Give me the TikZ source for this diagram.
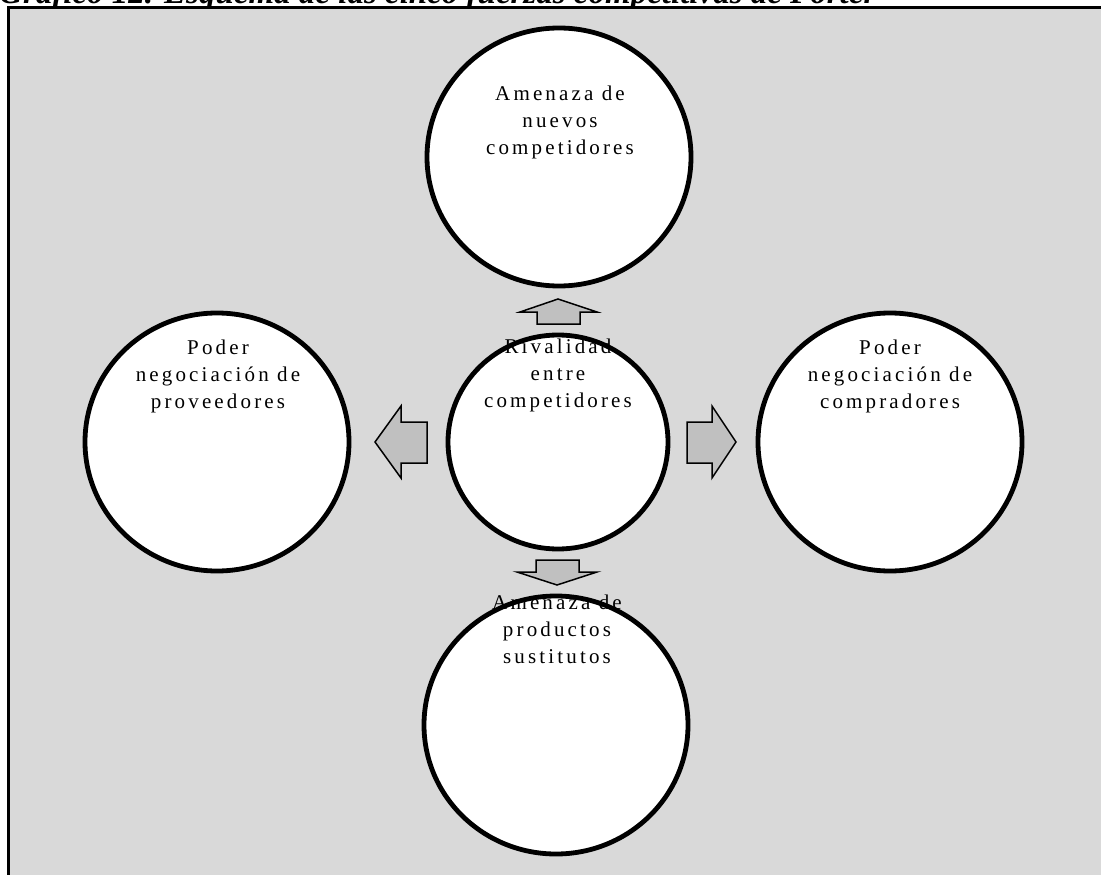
\documentclass[tikz,border=0pt]{standalone}
\usepackage{fontspec}
\setmainfont{Liberation Serif}
\newfontfamily\labfont[LetterSpace=15]{Liberation Serif}
\usetikzlibrary{shapes.geometric}
\definecolor{bggrey}{HTML}{D9D9D9}
\definecolor{arrowgrey}{HTML}{C0C0C0}
\tikzset{
  disc/.style={ellipse, fill=white, inner sep=0pt, outer sep=0pt},
  ring/.style={ellipse, draw=black, line width=4.8, inner sep=0pt, outer sep=0pt},
  bigsize/.style={minimum width=264, minimum height=258},
  midsize/.style={minimum width=220, minimum height=214},
  lab/.style={align=center, anchor=base, inner sep=0pt, font=\labfont\fontsize{21}{27}\selectfont},
  blockarrow/.style={draw=black, line width=1.5, fill=arrowgrey, line join=miter},
}
\begin{document}
\begin{tikzpicture}[x=1pt, y=-1pt]
\useasboundingbox (0,0) rectangle (1101,875);
\fill[white] (0,0) rectangle (1101,875);
\node[overlay, anchor=base west, inner sep=0pt, font=\bfseries\itshape\fontsize{33}{36}\selectfont] (caption) at (-1,4) {Gráfico 12. Esquema de las cinco fuerzas competitivas de Porter};
\draw[overlay, line width=3, fill=bggrey] (8.5,7.5) rectangle (1120,890);
% circle fills
\node[disc, bigsize] (top) at (559,157) {};
\node[disc, midsize] (mid) at (558,442) {};
\node[disc, bigsize] (left) at (217,442) {};
\node[disc, bigsize] (right) at (890,442) {};
\node[disc, bigsize] (bottom) at (556,725) {};
% labels (base = last line)
\node[lab] (toplab) at (560,154) {Amenaza de\\nuevos\\competidores};
\node[lab] (leftlab) at (218,408) {Poder\\negociación de\\proveedores};
\node[lab] (midlab) at (558,407) {Rivalidad\\entre\\competidores};
\node[lab] (rightlab) at (890,408) {Poder\\negociación de\\compradores};
\node[lab] (bottomlab) at (557,663) {Amenaza de\\productos\\sustitutos};
% circle outlines
\node[ring, bigsize] (topring) at (top) {};
\node[ring, midsize] (midring) at (mid) {};
\node[ring, bigsize] (leftring) at (left) {};
\node[ring, bigsize] (rightring) at (right) {};
\node[ring, bigsize] (bottomring) at (bottom) {};
% block arrows
\draw[blockarrow] (558,299) -- (597,312) -- (580,312) -- (580,324) -- (537,324) -- (537,312) -- (520,312) -- cycle;
\draw[blockarrow] (375,442) -- (401,406) -- (401,422) -- (427,422) -- (427,463) -- (401,463) -- (401,478) -- cycle;
\draw[blockarrow] (687,422) -- (712,422) -- (712,406) -- (736,442) -- (712,478) -- (712,463) -- (687,463) -- cycle;
\draw[blockarrow] (536,560) -- (579,560) -- (579,572) -- (597,572) -- (557,585) -- (517,572) -- (536,572) -- cycle;
\end{tikzpicture}
\end{document}
